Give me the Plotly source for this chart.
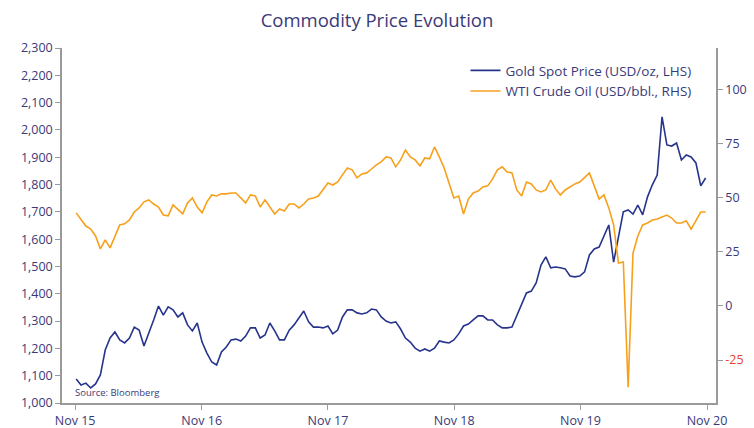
import pandas as pd
import plotly.graph_objects as go

# Fortnightly observation dates
dates = pd.date_range("2015-11-18", periods=131, freq="14D")

gold = [1088, 1066, 1073, 1055, 1070, 1103, 1194, 1238, 1260, 1231,
        1220, 1238, 1278, 1267, 1209, 1253, 1304, 1355, 1322, 1352,
        1341, 1315, 1330, 1286, 1264, 1293, 1223, 1183, 1150, 1139,
        1187, 1205, 1231, 1234, 1227, 1245, 1275, 1275, 1238, 1249,
        1293, 1264, 1231, 1231, 1267, 1286, 1311, 1337, 1297, 1278,
        1278, 1275, 1282, 1253, 1267, 1315, 1341, 1341, 1330, 1326,
        1330, 1344, 1341, 1315, 1300, 1293, 1297, 1271, 1238, 1223,
        1201, 1190, 1198, 1190, 1201, 1227, 1223, 1220, 1231, 1253,
        1282, 1289, 1304, 1319, 1319, 1304, 1304, 1286, 1275, 1275,
        1278, 1319, 1359, 1403, 1410, 1440, 1505, 1535, 1495, 1498,
        1495, 1491, 1465, 1462, 1465, 1480, 1542, 1564, 1571, 1615,
        1652, 1516, 1615, 1700, 1707, 1692, 1725, 1689, 1755, 1799,
        1835, 2048, 1945, 1941, 1952, 1890, 1908, 1901, 1879, 1795,
        1824]

wti = [43.1, 40.3, 37.0, 35.6, 32.4, 26.4, 30.6, 26.9, 32.4, 37.5,
       38.0, 39.8, 43.5, 45.4, 48.2, 49.1, 47.2, 45.8, 42.1, 41.7,
       46.8, 44.9, 42.6, 47.7, 50.0, 45.8, 43.1, 48.2, 51.4, 50.9,
       51.9, 51.9, 52.3, 52.3, 50.0, 47.7, 51.4, 50.9, 45.8, 49.1,
       45.8, 42.6, 44.9, 44.0, 47.2, 47.2, 45.4, 47.2, 49.5, 50.0,
       50.9, 54.2, 56.9, 56.0, 57.4, 60.7, 63.9, 63.0, 59.3, 61.1,
       61.6, 63.4, 65.3, 66.7, 69.0, 68.5, 64.4, 67.6, 72.2, 69.0,
       67.6, 64.8, 68.5, 68.1, 73.6, 69.0, 63.9, 56.9, 50.0, 50.9,
       42.6, 49.5, 52.3, 53.2, 55.1, 55.6, 58.8, 63.0, 64.4, 62.0,
       61.6, 53.7, 50.9, 57.4, 56.5, 53.7, 52.8, 53.7, 58.3, 54.2,
       51.4, 53.7, 55.1, 56.5, 57.4, 59.7, 61.6, 55.6, 49.5, 51.4,
       45.4, 37.5, 19.9, 20.4, -37.6, 24.5, 32.4, 37.5, 38.4, 39.8,
       40.3, 41.2, 42.1, 40.7, 38.4, 38.4, 39.4, 35.6, 39.8, 43.5,
       43.5]

x_tick_dates = ["2015-11-15", "2016-11-15", "2017-11-15", "2018-11-15",
                "2019-11-15", "2020-11-15"]
x_tick_labels = ["Nov 15", "Nov 16", "Nov 17", "Nov 18", "Nov 19", "Nov 20"]
left_ticks = list(range(1000, 2301, 100))
right_ticks = [-25, 0, 25, 50, 75, 100]
right_labels = ['<span style="color:#e8452c">-25</span>', "0", "25", "50", "75", "100"]

NAVY = "#27348b"
ORANGE = "#f7a01c"
TXT = "#3a3a78"
AX = "#9a9a9a"

fig = go.Figure()
fig.add_trace(go.Scatter(x=dates, y=gold, name="Gold Spot Price (USD/oz, LHS)",
                         mode="lines", line=dict(color=NAVY, width=1.6), yaxis="y"))
fig.add_trace(go.Scatter(x=dates, y=wti, name="WTI Crude Oil (USD/bbl., RHS)",
                         mode="lines", line=dict(color=ORANGE, width=1.6), yaxis="y2"))

axis_common = dict(showgrid=False, zeroline=False, showline=True, linecolor=AX,
                   linewidth=1.5, ticks="outside", ticklen=5, tickcolor=AX,
                   tickfont=dict(size=12.5, color=TXT), automargin=False)

fig.update_layout(
    width=754, height=428,
    margin=dict(l=62, r=38, t=48, b=25, autoexpand=False),
    paper_bgcolor="white", plot_bgcolor="white",
    font=dict(family="Open Sans, Noto Sans, sans-serif", color=TXT, size=12),
    title=dict(text="Commodity Price Evolution", x=0.5, xanchor="center",
               y=0.953, yanchor="middle", font=dict(size=18.5, color=TXT)),
    showlegend=True,
    legend=dict(x=0.617, y=0.98, xanchor="left", yanchor="top",
                bgcolor="rgba(0,0,0,0)", font=dict(size=13.5, color=TXT),
                tracegroupgap=0, itemwidth=30),
    xaxis=dict(type="date", range=["2015-10-08", "2020-12-11"],
               tickvals=x_tick_dates, ticktext=x_tick_labels, **axis_common),
    yaxis=dict(range=[1000, 2300], tickvals=left_ticks, tickformat=",d",
               **axis_common),
    yaxis2=dict(range=[-44.9, 119.4], overlaying="y", side="right",
                tickvals=right_ticks, ticktext=right_labels, **axis_common),
    annotations=[dict(text="Source: Bloomberg", xref="paper", yref="paper",
                      x=0.017, y=0.005, xanchor="left", yanchor="bottom",
                      showarrow=False, font=dict(size=9.5, color=TXT))],
)

fig.write_html("out.html", config={"displayModeBar": False},
               post_script="document.body.style.margin='0';"
                           "document.body.style.overflow='hidden';")
